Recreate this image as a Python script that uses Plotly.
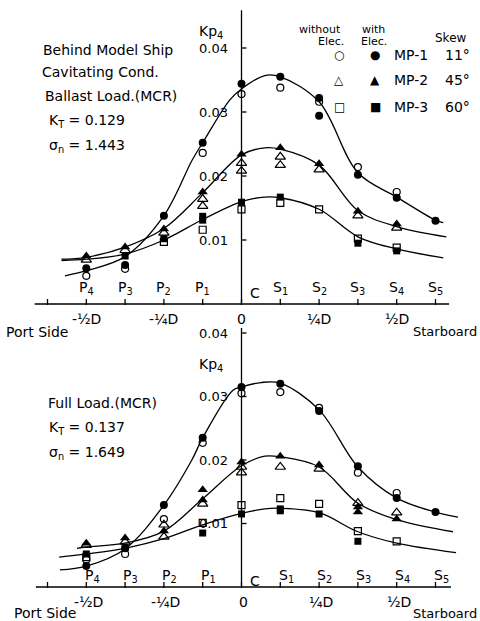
import plotly.graph_objects as go

W, H = 480, 621
FONT = "DejaVu Sans"

# ---------------- data (Kp4 vs. station, 1 station = D/8) ----------------
tick_stations = [-5, -4, -3, -2, -1, 0, 1, 2, 3, 4, 5]
station_text = ["", "P<sub>4</sub>", "P<sub>3</sub>", "P<sub>2</sub>", "P<sub>1</sub>", "C",
                "S<sub>1</sub>", "S<sub>2</sub>", "S<sub>3</sub>", "S<sub>4</sub>", "S<sub>5</sub>"]
d_stations = [-4, -2, 0, 2, 4]
d_text = ["-½D", "-¼D", "0", "¼D", "½D"]
y_ticks = [0.01, 0.02, 0.03, 0.04]
y_text = ["0.01", "0.02", "0.03", "0.04"]

# Top panel: Ballast load
top_mp1_open_x = [-4, -3, -1, 0, 1, 2, 3, 4]
top_mp1_open_y = [0.0044, 0.0055, 0.0236, 0.0328, 0.0338, 0.0316, 0.0214, 0.0175]
top_mp1_fill_x = [-4, -3, -2, -1, 0, 1, 2, 2, 3, 4, 5]
top_mp1_fill_y = [0.0056, 0.0061, 0.0138, 0.0252, 0.0344, 0.0355, 0.0322, 0.0294, 0.0202, 0.0166, 0.0130]
top_mp2_open_x = [-4, -3, -2, -1, -1, 0, 0, 1, 1, 2, 3, 4]
top_mp2_open_y = [0.0069, 0.0084, 0.0111, 0.0164, 0.0153, 0.0220, 0.0208, 0.0230, 0.0217, 0.0210, 0.0138, 0.0119]
top_mp2_fill_x = [-4, -3, -2, -1, 0, 1, 2, 3, 4]
top_mp2_fill_y = [0.0075, 0.0089, 0.0117, 0.0175, 0.0234, 0.0244, 0.0219, 0.0145, 0.0125]
top_mp3_open_x = [-2, -1, 0, 1, 2, 3, 4]
top_mp3_open_y = [0.0097, 0.0116, 0.0148, 0.0158, 0.0148, 0.0102, 0.0088]
top_mp3_fill_x = [-3, -2, -1, -1, 0, 1, 3, 4]
top_mp3_fill_y = [0.0075, 0.0102, 0.0131, 0.0137, 0.0159, 0.0167, 0.0095, 0.0083]

top_c1_x = [-4.55, -4, -3, -2, -1.27, -1, -0.3, 0, 0.6, 1, 2, 3, 4, 5, 5.2]
top_c1_y = [0.0044, 0.0052, 0.0074, 0.0138, 0.0225, 0.0252, 0.0319, 0.0336, 0.0357, 0.0355, 0.0316, 0.0205, 0.0167, 0.0131, 0.0127]
top_c2_x = [-4.64, -4, -3, -2, -1, 0, 0.6, 1, 2, 3, 4, 5.28]
top_c2_y = [0.0070, 0.0073, 0.0089, 0.0118, 0.0174, 0.0233, 0.0244, 0.0242, 0.0217, 0.0146, 0.0121, 0.0105]
top_c3_x = [-4.64, -4, -3, -2, -1, 0, 0.6, 1, 2, 3, 4, 5.2]
top_c3_y = [0.0068, 0.0070, 0.0078, 0.0100, 0.0132, 0.0160, 0.0167, 0.0166, 0.0148, 0.0105, 0.0086, 0.0072]

# Bottom panel: Full load
bot_mp1_open_x = [-4, -3, -2, -1, 0, 1, 2, 3, 4]
bot_mp1_open_y = [0.0043, 0.0052, 0.0107, 0.0227, 0.0305, 0.0307, 0.0282, 0.0180, 0.0148]
bot_mp1_fill_x = [-4, -3, -2, -1, 0, 1, 2, 3, 4, 5]
bot_mp1_fill_y = [0.0033, 0.0061, 0.0129, 0.0235, 0.0315, 0.0320, 0.0277, 0.0190, 0.0140, 0.0118]
bot_mp2_open_x = [-4, -3, -2, -2, -1, 0, 0, 1, 2, 3, 4]
bot_mp2_open_y = [0.0066, 0.0071, 0.0098, 0.0079, 0.0131, 0.0189, 0.0180, 0.0189, 0.0186, 0.0132, 0.0117]
bot_mp2_fill_x = [-4, -3, -2, -1, -1, 0, 1, 2, 3, 3, 4]
bot_mp2_fill_y = [0.0069, 0.0077, 0.0088, 0.0153, 0.0137, 0.0197, 0.0206, 0.0192, 0.0126, 0.0118, 0.0107]
bot_mp3_open_x = [-4, -1, 0, 1, 2, 3, 4]
bot_mp3_open_y = [0.0047, 0.0101, 0.0129, 0.0140, 0.0131, 0.0088, 0.0072]
bot_mp3_fill_x = [-4, -3, -1, 0, 1, 1, 2, 3]
bot_mp3_fill_y = [0.0052, 0.0062, 0.0085, 0.0115, 0.0123, 0.0120, 0.0115, 0.0072]

bot_c1_x = [-4.68, -4, -3, -2, -1.28, -1, -0.22, 0, 0.5, 1, 2, 3, 4, 5, 5.58]
bot_c1_y = [0.0027, 0.0033, 0.0060, 0.0129, 0.0200, 0.0235, 0.0310, 0.0315, 0.0322, 0.0321, 0.0279, 0.0189, 0.0140, 0.0118, 0.0110]
bot_c2_x = [-4.24, -4, -3, -2, -1, 0, 0.6, 1, 2, 3, 4, 5.45]
bot_c2_y = [0.0061, 0.0063, 0.0069, 0.0088, 0.0139, 0.0191, 0.0206, 0.0205, 0.0189, 0.0132, 0.0106, 0.0087]
bot_c3_x = [-4.7, -4, -3, -2, -1, 0, 0.6, 1, 2, 3, 4, 5.53]
bot_c3_y = [0.0047, 0.0052, 0.0061, 0.0076, 0.0098, 0.0116, 0.0123, 0.0124, 0.0117, 0.0087, 0.0069, 0.0054]

# ---------------- pixel geometry ----------------
X0, SX = 241.5, 38.8          # px of station 0, px per station
T0, TS = 304, 6400            # top panel: px of Kp=0, px per unit
B0, BS = 587, 6350            # bottom panel


def px(x):
    return x / W


def py(y):
    return 1 - y / H


fig = go.Figure()


def pts(x, y, sym, size, axis, filled):
    fig.add_trace(go.Scatter(
        x=x, y=y, mode="markers", yaxis=axis, cliponaxis=False, showlegend=False,
        marker=dict(symbol=sym, size=size, color="black",
                    line=dict(color="black", width=1.2 if not filled else 0))))


def curve(x, y, axis):
    fig.add_trace(go.Scatter(
        x=x, y=y, mode="lines", yaxis=axis, showlegend=False,
        line=dict(color="black", width=1.3, shape="spline", smoothing=1.0)))


for ax, c in (("y", (top_c1_x, top_c1_y, top_c2_x, top_c2_y, top_c3_x, top_c3_y)),
              ("y2", (bot_c1_x, bot_c1_y, bot_c2_x, bot_c2_y, bot_c3_x, bot_c3_y))):
    curve(c[0], c[1], ax)
    curve(c[2], c[3], ax)
    curve(c[4], c[5], ax)

pts(top_mp1_open_x, top_mp1_open_y, "circle-open", 7, "y", False)
pts(top_mp1_fill_x, top_mp1_fill_y, "circle", 8, "y", True)
pts(top_mp2_open_x, top_mp2_open_y, "triangle-up-open", 9, "y", False)
pts(top_mp2_fill_x, top_mp2_fill_y, "triangle-up", 9, "y", True)
pts(top_mp3_open_x, top_mp3_open_y, "square-open", 7, "y", False)
pts(top_mp3_fill_x, top_mp3_fill_y, "square", 7, "y", True)

pts(bot_mp1_open_x, bot_mp1_open_y, "circle-open", 7, "y2", False)
pts(bot_mp1_fill_x, bot_mp1_fill_y, "circle", 8, "y2", True)
pts(bot_mp2_open_x, bot_mp2_open_y, "triangle-up-open", 9, "y2", False)
pts(bot_mp2_fill_x, bot_mp2_fill_y, "triangle-up", 9, "y2", True)
pts(bot_mp3_open_x, bot_mp3_open_y, "square-open", 7, "y2", False)
pts(bot_mp3_fill_x, bot_mp3_fill_y, "square", 7, "y2", True)

shapes = []
ann = []
LINE = dict(color="black", width=1.3)

for yref, ps, xl, xr, ytop, sy in (("y", TS, -5.33, 5.35, 0.0459, 288), ("y2", BS, -5.3, 5.4, 0.0408, 576)):
    shapes.append(dict(type="line", xref="x", yref=yref, x0=xl, x1=xr, y0=0, y1=0, line=LINE))
    shapes.append(dict(type="line", xref="x", yref=yref, x0=0, x1=0, y0=0, y1=ytop, line=LINE))
    for s in tick_stations:
        shapes.append(dict(type="line", xref="x", yref=yref, x0=s, x1=s, y0=-1 / ps, y1=5 / ps, line=LINE))
    for v in y_ticks:
        shapes.append(dict(type="line", xref="x", yref=yref, x0=0, x1=5 / SX, y0=v, y1=v, line=LINE))
    for v, t in zip(y_ticks, y_text):
        ann.append(dict(x=-12 / SX, y=v, xref="x", yref=yref, text=t, showarrow=False,
                        xanchor="right", yanchor="middle", font=dict(size=13)))
    for s, t in zip(tick_stations, station_text):
        if not t:
            continue
        dx = 0.18 if t == "C" else (0.15 if yref == "y2" else 0)
        ann.append(dict(x=s + dx, y=py(sy + (5 if t == "C" else 0)), xref="x", yref="paper", text=t,
                        showarrow=False, xanchor="center" if t != "C" else "left", yanchor="middle",
                        font=dict(size=14)))

for s, t in zip(d_stations, d_text):
    ann.append(dict(x=s, y=py(319), xref="x", yref="paper", text=t, showarrow=False,
                    xanchor="center", yanchor="middle", font=dict(size=14)))
    ann.append(dict(x=s + 0.05, y=py(602), xref="x", yref="paper", text=t, showarrow=False,
                    xanchor="center", yanchor="middle", font=dict(size=14)))


def txt(x, y, t, size=14, anchor="left"):
    ann.append(dict(x=px(x), y=py(y), xref="paper", yref="paper", text=t, showarrow=False,
                    xanchor=anchor, yanchor="middle", font=dict(size=size)))


txt(4, 332, "Port Side")
txt(479, 331, "Starboard", 13, "right")
txt(12, 613, "Port Side")
txt(479, 613, "Starboard", 13, "right")

txt(41, 50, "Behind Model Ship")
txt(40, 72, "Cavitating Cond.")
txt(43, 96, "Ballast Load.(MCR)")
txt(47, 121, "K<sub>T</sub> = 0.129")
txt(47, 146, "σ<sub>n</sub> = 1.443")

txt(46, 403, "Full Load.(MCR)")
txt(47, 428, "K<sub>T</sub> = 0.137")
txt(47, 453, "σ<sub>n</sub> = 1.649")

txt(197, 32, "Kp<sub>4</sub>")
txt(197, 365, "Kp<sub>4</sub>")

# legend
txt(320, 30, "without", 11, "center")
txt(331, 42, "Elec.", 11, "center")
txt(373, 30, "with", 11, "center")
txt(374, 42, "Elec.", 11, "center")
txt(451, 38, "Skew", 12, "center")
for yy, a, b, name, sk in ((55, "○", "●", "MP-1", "11°"), (80, "△", "▲", "MP-2", "45°"),
                           (107, "□", "■", "MP-3", "60°")):
    txt(339, yy, a, 12, "center")
    txt(375, yy, b, 12, "center")
    txt(392, yy, name, 14)
    txt(443, yy, sk, 14)

fig.update_layout(
    width=W, height=H, margin=dict(l=0, r=0, t=0, b=0),
    paper_bgcolor="white", plot_bgcolor="white",
    font=dict(family=FONT, color="black", size=14),
    xaxis=dict(range=[(0 - X0) / SX, (W - X0) / SX], domain=[0, 1], visible=False, fixedrange=True),
    yaxis=dict(range=[(T0 - H) / TS, T0 / TS], domain=[0, 1], visible=False),
    yaxis2=dict(range=[(B0 - H) / BS, B0 / BS], domain=[0, 1], visible=False, overlaying="y"),
    shapes=shapes, annotations=ann,
)

fig.write_html("out.html")
